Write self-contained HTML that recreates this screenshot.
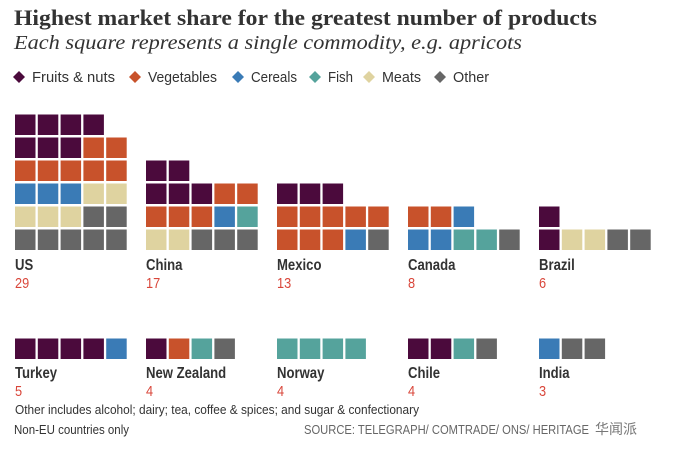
<!DOCTYPE html>
<html><head><meta charset="utf-8">
<style>
html,body{margin:0;padding:0;background:#fff;}
svg{display:block;}
.t{font-family:"Liberation Serif",serif;}
.s{font-family:"Liberation Sans",sans-serif;}
</style></head>
<body>
<svg id="chart" width="674" height="458" viewBox="0 0 674 458" xmlns="http://www.w3.org/2000/svg">
<text class="t" x="14" y="25" font-size="22" font-weight="bold" fill="#333" textLength="583" lengthAdjust="spacingAndGlyphs">Highest market share for the greatest number of products</text>
<text class="t" x="14" y="49" font-size="20" font-style="italic" fill="#333" textLength="508" lengthAdjust="spacingAndGlyphs">Each square represents a single commodity, e.g. apricots</text>
<g id="legend"></g>
<g id="grids"></g>
<text class="s" x="15" y="414" font-size="13" fill="#333" textLength="404" lengthAdjust="spacingAndGlyphs">Other includes alcohol; dairy; tea, coffee &amp; spices; and sugar &amp; confectionary</text>
<text class="s" x="14" y="434" font-size="13" fill="#333" textLength="115" lengthAdjust="spacingAndGlyphs">Non-EU countries only</text>
<text class="s" x="304" y="434" font-size="13" fill="#666" textLength="285" lengthAdjust="spacingAndGlyphs">SOURCE: TELEGRAPH/ COMTRADE/ ONS/ HERITAGE</text>
<text x="595" y="434" font-size="14" fill="#777" font-family="'Liberation Sans','Noto Sans CJK SC',sans-serif">华闻派</text>
</svg>
<script>
const categories = ["Fruits & nuts","Vegetables","Cereals","Fish","Meats","Other"];
const colors = ["#4b0a3c","#c8522b","#3a7bb6","#55a39c","#dfd3a0","#666666"];
const countries = ["US","China","Mexico","Canada","Brazil","Turkey","New Zealand","Norway","Chile","India"];
const totals = [29,17,13,8,6,5,4,4,4,3];
// counts per category: fruits, veg, cereals, fish, meats, other
const fruitsCounts = [7,5,3,0,2,4,1,0,2,0];
const vegCounts    = [7,5,8,2,0,0,1,0,0,0];
const cerealCounts = [3,1,1,3,0,1,0,0,0,1];
const fishCounts   = [0,1,0,2,0,0,1,4,1,0];
const meatCounts   = [5,2,0,0,2,0,0,0,0,0];
const otherCounts  = [7,3,1,1,2,0,1,0,1,2];
const legendX = [19,135,238,315,369,440];
const legendW = [83,69,46,25,39,36];

const NS="http://www.w3.org/2000/svg";
function mk(tag,attrs,parent){const e=document.createElementNS(NS,tag);for(const k in attrs)e.setAttribute(k,attrs[k]);parent.appendChild(e);return e;}

const lg=document.getElementById('legend');
categories.forEach((c,i)=>{
  const x=legendX[i], y=77;
  const d=mk('path',{d:`M${x-6},${y} L${x},${y-6} L${x+6},${y} L${x},${y+6} Z`,fill:colors[i]},lg);
  
  
  const t=mk('text',{x:x+13,y:y+5,'font-size':15,fill:'#333',class:'s',textLength:legendW[i],lengthAdjust:'spacingAndGlyphs'},lg);
  t.textContent=c;
  
  
});

const g=document.getElementById('grids');
countries.forEach((name,ci)=>{
  const top = ci<5;
  const col = ci%5;
  const x0 = 15 + col*131;
  const cw = 20.5, ch = 20.5;
  const pitchX = 22.8, pitchY = 23;
  const bottomY = top ? 250 : 359;
  const counts=[fruitsCounts[ci],vegCounts[ci],cerealCounts[ci],fishCounts[ci],meatCounts[ci],otherCounts[ci]];
  const seq=[];
  counts.forEach((n,k)=>{for(let j=0;j<n;j++)seq.push(k);});
  const n=seq.length;
  const rows=Math.ceil(n/5);
  const rem=n%5===0?5:n%5;
  let idx=0;
  for(let r=0;r<rows;r++){
    const inRow = r===0?rem:5;
    const y = bottomY - ch - (rows-1-r)*pitchY;
    for(let c=0;c<inRow;c++){
      const rect=mk('rect',{x:x0+c*pitchX,y:y,width:cw,height:ch,fill:colors[seq[idx]]},g);
      
      
      idx++;
    }
  }
  const ly = top ? 270 : 378;
  const nt=mk('text',{transform:`translate(${x0},${ly}) scale(0.82,1)`,'font-size':16,'font-weight':'bold',fill:'#333',class:'s'},g);
  nt.textContent=name;
  
  
  const vt=mk('text',{transform:`translate(${x0},${ly+18}) scale(0.85,1)`,'font-size':15,fill:'#d9463a',class:'s'},g);
  vt.textContent=totals[ci];
  
  
});
</script>
</body></html>
